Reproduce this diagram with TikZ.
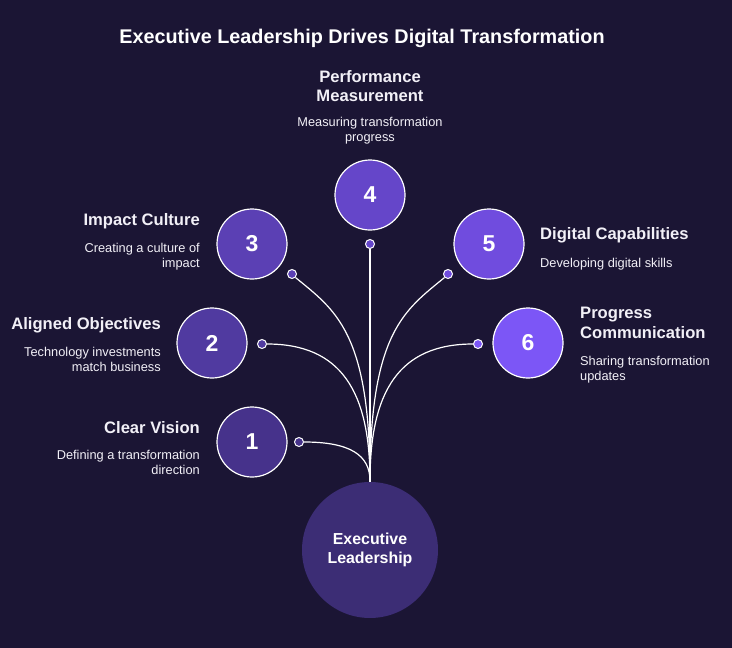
\documentclass[tikz,border=0pt]{standalone}
\usepackage{fontspec}
\setmainfont{Liberation Sans}
\definecolor{bg}{HTML}{1B1534}
\definecolor{cen}{HTML}{3C2D75}
\definecolor{cA}{HTML}{46328B}
\definecolor{cB}{HTML}{503AA0}
\definecolor{cC}{HTML}{5B40B4}
\definecolor{cD}{HTML}{6546C9}
\definecolor{cE}{HTML}{704CDE}
\definecolor{cF}{HTML}{7C56F6}
\definecolor{txt}{HTML}{F2F0F7}
\tikzset{
  numc/.style={circle,draw=white,line width=1.2pt,minimum size=70pt,inner sep=0pt,text=white,font=\fontsize{23}{23}\selectfont\bfseries},
  dotc/.style={circle,draw=white,line width=1pt,minimum size=9pt,inner sep=0pt},
  head/.style={text=txt,font=\fontsize{16.6}{19.5}\selectfont\bfseries,inner sep=0pt},
  sub/.style={text=txt,font=\fontsize{12.8}{15.3}\selectfont,inner sep=0pt},
  conn/.style={draw=white,line width=1.2pt}
}
\begin{document}
\begin{tikzpicture}[x=1pt,y=-1pt]
\fill[bg] (0,0) rectangle (732,648);
\useasboundingbox (0,0) rectangle (732,648);
\node[text=white,font=\fontsize{19.8}{22}\selectfont\bfseries] (title) at (362,38) {Executive Leadership Drives Digital Transformation};
% center
\node[circle,fill=cen,minimum size=136pt,inner sep=0pt,text=white,align=center,font=\fontsize{15.9}{19.5}\selectfont\bfseries] (lead) at (370,550) {Executive\\Leadership};
\coordinate (base) at (370,481);
% connectors
\node[dotc,fill=cD] (d4) at (370,244) {};
\node[dotc,fill=cC] (d3) at (292,274) {};
\node[dotc,fill=cE] (d5) at (448,274) {};
\node[dotc,fill=cB] (d2) at (262,344) {};
\node[dotc,fill=cF] (d6) at (478,344) {};
\node[dotc,fill=cA] (d1) at (299,442) {};
\draw[conn] (base) -- (lead.north);
\draw[conn] (d4.south) -- (base);
\draw[conn] (d3.south east) .. controls (335,310) and (370,332) .. (base);
\draw[conn] (d5.south west) .. controls (405,310) and (370,332) .. (base);
\draw[conn] (d2.east) .. controls (340,344) and (370,390) .. (base);
\draw[conn] (d6.west) .. controls (400,344) and (370,390) .. (base);
\draw[conn] (d1.east) .. controls (350,442) and (370,455) .. (base);
% number circles
\node[numc,fill=cA] (n1) at (252,442) {1};
\node[numc,fill=cB] (n2) at (212,343) {2};
\node[numc,fill=cC] (n3) at (252,244) {3};
\node[numc,fill=cD] (n4) at (370,195) {4};
\node[numc,fill=cE] (n5) at (489,244) {5};
\node[numc,fill=cF] (n6) at (528,343) {6};
% labels
\node[head,align=center,anchor=north] (h4) at (370,70) {Performance\\Measurement};
\node[sub,align=center,anchor=north] (s4) at (370,117) {Measuring transformation\\progress};
\node[head,anchor=east] (h3) at (200,221) {Impact Culture};
\node[sub,align=right,anchor=north east] (s3) at (200,243) {Creating a culture of\\impact};
\node[head,anchor=east] (h2) at (161,325) {Aligned Objectives};
\node[sub,align=right,anchor=north east] (s2) at (161,347) {Technology investments\\match business};
\node[head,anchor=east] (h1) at (200,428) {Clear Vision};
\node[sub,align=right,anchor=north east] (s1) at (200,450) {Defining a transformation\\direction};
\node[head,anchor=west] (h5) at (540,235) {Digital Capabilities};
\node[sub,anchor=west] (s5) at (540,264) {Developing digital skills};
\node[head,align=left,anchor=north west] (h6) at (580,307) {Progress\\Communication};
\node[sub,align=left,anchor=north west] (s6) at (580,356) {Sharing transformation\\updates};
\end{tikzpicture}
\end{document}
